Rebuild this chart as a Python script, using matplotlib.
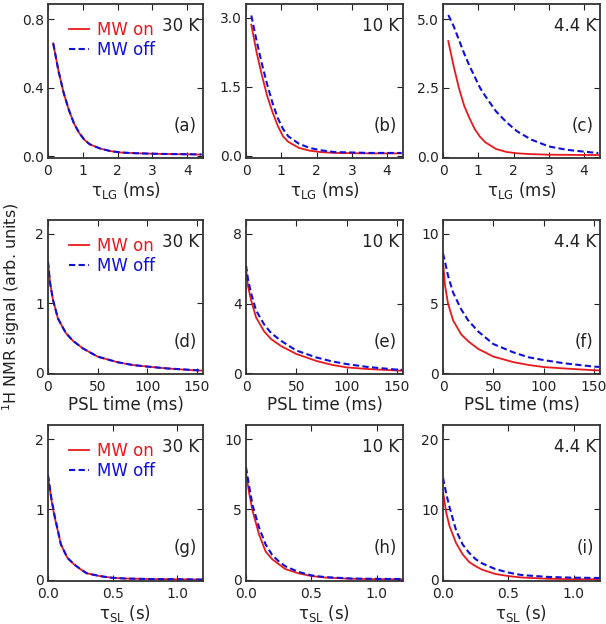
import matplotlib
matplotlib.use("Agg")
import matplotlib.pyplot as plt

# row 1: tau_LG (ms)
t_lg = [0.15, 0.3, 0.45, 0.6, 0.75, 0.9, 1.05, 1.2, 1.5, 1.8, 2.1, 2.5, 3.0, 3.5, 4.0, 4.4]
a_on = [0.66, 0.50, 0.37, 0.27, 0.19, 0.135, 0.095, 0.07, 0.045, 0.03, 0.022, 0.018, 0.015, 0.013, 0.012, 0.010]
a_off = [0.66, 0.50, 0.37, 0.27, 0.19, 0.135, 0.095, 0.07, 0.045, 0.03, 0.022, 0.018, 0.015, 0.013, 0.012, 0.011]
b_on = [2.85, 2.25, 1.75, 1.30, 0.95, 0.65, 0.42, 0.30, 0.17, 0.11, 0.08, 0.06, 0.055, 0.05, 0.05, 0.05]
b_off = [3.05, 2.50, 2.00, 1.55, 1.15, 0.82, 0.58, 0.42, 0.26, 0.17, 0.12, 0.08, 0.07, 0.06, 0.06, 0.06]
c_on = [4.20, 3.30, 2.50, 1.85, 1.40, 1.00, 0.72, 0.52, 0.28, 0.17, 0.12, 0.09, 0.07, 0.065, 0.06, 0.06]
c_off = [5.15, 4.75, 4.25, 3.75, 3.30, 2.90, 2.50, 2.20, 1.65, 1.25, 0.92, 0.62, 0.37, 0.25, 0.18, 0.13]

# row 2: PSL time (ms)
t_psl = [0, 2, 5, 10, 18, 25, 35, 50, 70, 85, 100, 120, 150, 155]
d_on = [1.60, 1.30, 1.05, 0.78, 0.57, 0.46, 0.35, 0.23, 0.15, 0.11, 0.087, 0.06, 0.03, 0.03]
d_off = [1.60, 1.30, 1.05, 0.78, 0.57, 0.46, 0.35, 0.23, 0.15, 0.11, 0.087, 0.06, 0.035, 0.03]
e_on = [6.0, 5.0, 4.2, 3.2, 2.4, 1.95, 1.55, 1.1, 0.7, 0.48, 0.33, 0.24, 0.15, 0.14]
e_off = [6.2, 5.4, 4.6, 3.6, 2.8, 2.3, 1.85, 1.3, 0.9, 0.68, 0.52, 0.36, 0.2, 0.19]
f_on = [8.0, 6.3, 5.0, 3.8, 2.8, 2.3, 1.75, 1.2, 0.8, 0.6, 0.45, 0.35, 0.22, 0.21]
f_off = [8.6, 8.0, 7.0, 5.8, 4.6, 3.8, 3.0, 2.1, 1.5, 1.15, 0.95, 0.72, 0.48, 0.46]

# row 3: tau_SL (s)
t_sl = [0.0, 0.025, 0.05, 0.1, 0.15, 0.2, 0.25, 0.3, 0.4, 0.5, 0.6, 0.8, 1.0, 1.2]
g_on = [1.47, 1.15, 0.90, 0.50, 0.31, 0.22, 0.15, 0.09, 0.05, 0.025, 0.015, 0.008, 0.005, 0.0]
g_off = [1.49, 1.17, 0.92, 0.50, 0.31, 0.22, 0.15, 0.09, 0.05, 0.025, 0.015, 0.008, 0.005, 0.0]
h_on = [7.6, 6.1, 4.9, 3.2, 2.0, 1.45, 1.1, 0.75, 0.45, 0.25, 0.15, 0.06, 0.03, 0.02]
h_off = [8.0, 6.6, 5.3, 3.7, 2.5, 1.75, 1.3, 0.95, 0.55, 0.3, 0.18, 0.08, 0.05, 0.04]
i_on = [12.5, 9.5, 7.6, 5.2, 3.6, 2.5, 1.9, 1.4, 0.8, 0.5, 0.3, 0.12, 0.06, 0.05]
i_off = [14.5, 12.2, 10.3, 7.0, 5.0, 3.8, 2.9, 2.3, 1.5, 1.0, 0.65, 0.38, 0.27, 0.23]

temps = ["30 K", "10 K", "4.4 K"]
panel_tags = ["(a)", "(b)", "(c)", "(d)", "(e)", "(f)", "(g)", "(h)", "(i)"]
rows = [
    (t_lg, [(a_on, a_off), (b_on, b_off), (c_on, c_off)]),
    (t_psl, [(d_on, d_off), (e_on, e_off), (f_on, f_off)]),
    (t_sl, [(g_on, g_off), (h_on, h_off), (i_on, i_off)]),
]
xlabels = [r"τ$_{\rm LG}$ (ms)", "PSL time (ms)", r"τ$_{\rm SL}$ (s)"]
xlims = [(0, 4.45), (0, 156), (0, 1.2)]
xticks = [[0, 1, 2, 3, 4], [0, 50, 100, 150], [0.0, 0.5, 1.0]]
xticklabels = [["0", "1", "2", "3", "4"], ["0", "50", "100", "150"], ["0.0", "0.5", "1.0"]]
ylims = [[(-0.01, 0.89), (-0.05, 3.3), (-0.05, 5.55)],
         [(-0.02, 2.2), (-0.05, 8.8), (-0.05, 11)],
         [(-0.02, 2.2), (-0.1, 11), (-0.2, 22)]]
yticks = [[[0, 0.4, 0.8], [0, 1.5, 3.0], [0, 2.5, 5.0]],
          [[0, 1, 2], [0, 4, 8], [0, 5, 10]],
          [[0, 1, 2], [0, 5, 10], [0, 10, 20]]]
yticklabels = [[["0.0", "0.4", "0.8"], ["0.0", "1.5", "3.0"], ["0.0", "2.5", "5.0"]],
               [["0", "1", "2"], ["0", "4", "8"], ["0", "5", "10"]],
               [["0", "1", "2"], ["0", "5", "10"], ["0", "10", "20"]]]

W, H = 606, 624
col_px = [(48, 203), (246, 403), (443, 600)]
row_px = [(4, 158), (220, 374), (425, 581)]

txt = "#222222"
fig, axes = plt.subplots(3, 3, figsize=(W / 100, H / 100), dpi=100)

for r, (x, pairs) in enumerate(rows):
    for c, (on, off) in enumerate(pairs):
        ax = axes[r, c]
        x0, x1 = col_px[c]
        y0, y1 = row_px[r]
        ax.set_position([x0 / W, 1 - y1 / H, (x1 - x0) / W, (y1 - y0) / H])
        ax.plot(x, on, color="#e8191c", lw=1.3, label="MW on")
        ax.plot(x, off, color="#1010dd", lw=1.5, ls="--", dashes=(3, 1.6), label="MW off")
        ax.set_xlim(*xlims[r])
        ax.set_ylim(*ylims[r][c])
        ax.set_xticks(xticks[r])
        ax.set_xticklabels(xticklabels[r])
        ax.set_yticks(yticks[r][c])
        ax.set_yticklabels(yticklabels[r][c])
        ax.tick_params(direction="in", top=True, right=True, length=4, width=0.8,
                       labelsize=10, colors=txt, pad=3)
        ax.tick_params(axis="x", pad=4.5)
        for s in ax.spines.values():
            s.set_color("#333333")
            s.set_linewidth(1.3)
        ax.set_xlabel(xlabels[r], fontsize=12, color=txt, labelpad=1.5)
        ax.text(0.975, 0.915, temps[c], transform=ax.transAxes, ha="right", va="top",
                fontsize=12, color=txt)
        ax.text(0.96, 0.21, panel_tags[3 * r + c], transform=ax.transAxes, ha="right",
                va="center", fontsize=12, color=txt)
        if c == 0:
            ax.legend(loc="upper left", bbox_to_anchor=(0.07, 0.955), frameon=False,
                      fontsize=12, labelcolor="linecolor", handlelength=1.2,
                      handletextpad=0.5, labelspacing=0.1, borderaxespad=0.2)

fig.text(0.019, 0.508, r"$^{1}$H NMR signal (arb. units)", rotation=90, ha="center",
         va="center", fontsize=11.5, color=txt)

fig.savefig("out.png", dpi=100)
